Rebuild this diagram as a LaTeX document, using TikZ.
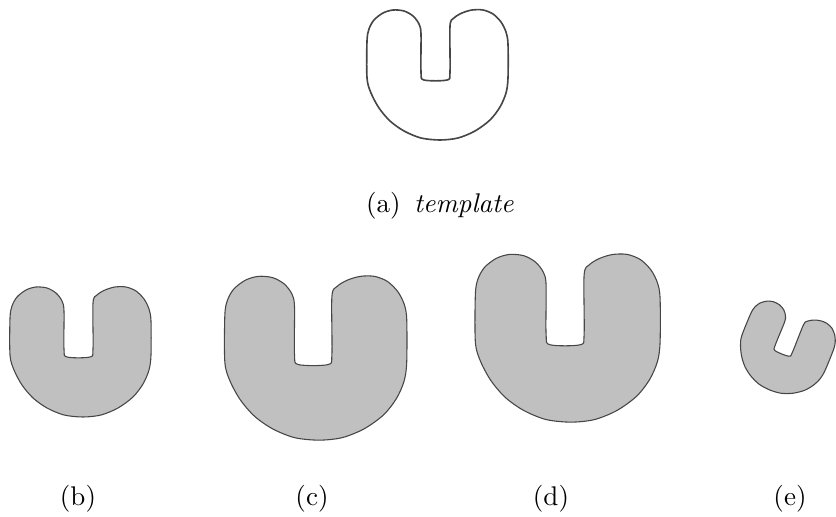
\documentclass[tikz,border=0pt]{standalone}
\usepackage{xcolor}
\usepackage{tikz}
\definecolor{shapegray}{RGB}{192,192,192}
\definecolor{edgegray}{RGB}{70,70,70}
\tikzstyle{tmpl} = [draw=edgegray, line width=0.6pt]
\tikzstyle{obj} = [draw=edgegray, fill=shapegray, line width=0.4pt]
\tikzstyle{sublabel} = [draw=none, inner sep=0]
% outline of the U, around its centre
\newcommand{\ushape}{plot [smooth cycle, tension=0.5] coordinates {
  (-16,6) (-19,-2) (-19,-40) (-21,-50) (-27,-58) (-36,-63) (-47,-64)
  (-57,-61) (-66,-54) (-71,-45) (-73,-33) (-73,4) (-69,19) (-61,34)
  (-50,47) (-36,57) (-19,64) (0,66) (18,64) (35,57) (50,46) (60,33)
  (66,19) (68,4) (68,-30) (66,-42) (61,-52) (53,-60) (43,-64) (32,-64)
  (22,-61) (14,-56) (10,-48) (10,-2) (7,6)}}

\begin{document}
\begin{tikzpicture}[x=0.37pt, y=-0.37pt]
\useasboundingbox (0,0) rectangle (836,517);
% template
\draw [tmpl, shift={(440,74)}] \ushape;
\node [sublabel] (capA) at (440,206) {(a)\enspace\textit{template}};
% deformed copies
\draw [obj, shift={(83,351)}] \ushape;
\draw [obj, shift={(319,357)}, xscale=1.29, yscale=1.26] \ushape;
\draw [obj, shift={(571,337)}, xscale=1.31, yscale=1.29] \ushape;
\draw [obj, shift={(786,351)}, rotate=-22, scale=0.64] \ushape;
\node [sublabel] (capB) at (78,499) {(b)};
\node [sublabel] (capC) at (312,499) {(c)};
\node [sublabel] (capD) at (551,499) {(d)};
\node [sublabel] (capE) at (790,499) {(e)};
\end{tikzpicture}
\end{document}
